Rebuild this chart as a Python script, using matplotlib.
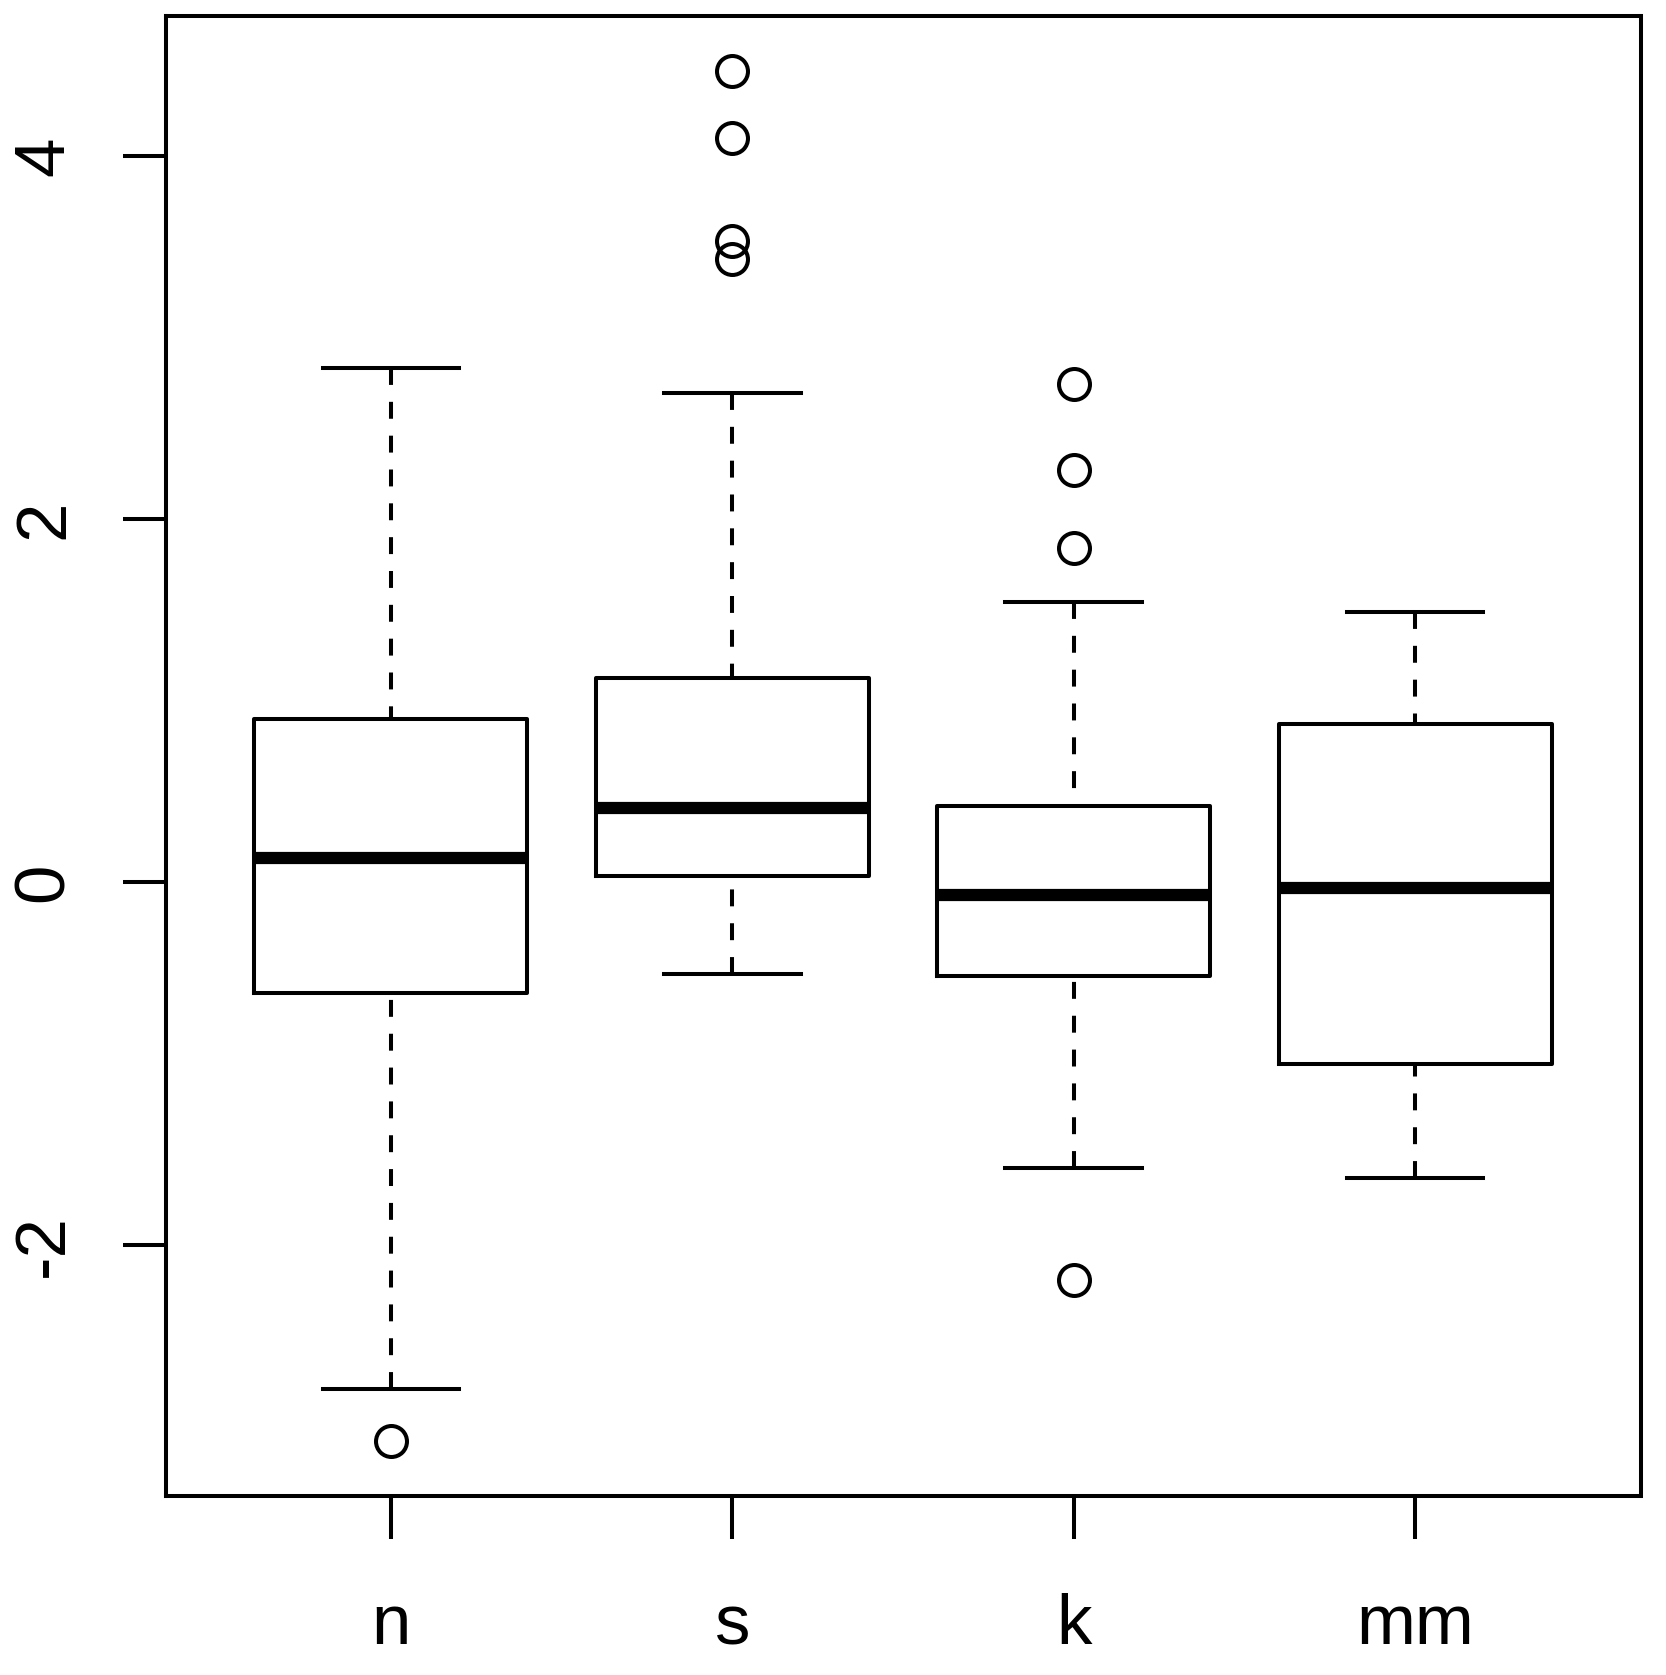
import matplotlib
matplotlib.use("Agg")
import matplotlib.pyplot as plt

plt.rcParams['font.family'] = ['Liberation Sans', 'DejaVu Sans']

categories = ["n", "s", "k", "mm"]
whisker_low = [-2.79, -0.506, -1.576, -1.63]
q1 = [-0.61, 0.035, -0.518, -1.0]
medians = [0.135, 0.41, -0.07, -0.03]
q3 = [0.90, 1.124, 0.418, 0.87]
whisker_high = [2.835, 2.694, 1.541, 1.488]
outliers = [[-3.08], [4.47, 4.10, 3.535, 3.435], [2.747, 2.27, 1.84, -2.19], []]
yticks = [-2, 0, 2, 4]

stats = []
for i, c in enumerate(categories):
    stats.append(dict(label=c, whislo=whisker_low[i], q1=q1[i], med=medians[i],
                      q3=q3[i], whishi=whisker_high[i], fliers=outliers[i]))

fig = plt.figure(figsize=(16.66, 16.75), dpi=100)
ax = fig.add_axes([165.5/1666, 1 - 1496/1675, (1640.5-165.5)/1666, (1496-16)/1675])

lw = 2.9
bp = ax.bxp(stats, positions=[1, 2, 3, 4], widths=0.8, showfliers=True,
            boxprops=dict(color='black', linewidth=lw),
            medianprops=dict(color='black', linewidth=8.8, solid_capstyle='butt'),
            whiskerprops=dict(color='black', linewidth=lw, linestyle=(0, (4.2, 4.2))),
            capprops=dict(color='black', linewidth=lw),
            flierprops=dict(marker='o', markersize=22.3, markerfacecolor='none',
                            markeredgecolor='black', markeredgewidth=lw, linestyle='none'),
            capwidths=0.4)
for w in bp['whiskers']:
    x, y = w.get_data()
    w.set_data(list(x)[::-1], list(y)[::-1])

allvals = whisker_low + whisker_high + [v for o in outliers for v in o]
lo, hi = min(allvals), max(allvals)
pad = 0.04 * (hi - lo)
ax.set_ylim(lo - pad, hi + pad)
ax.set_xlim(0.5 - 0.16, 4.5 + 0.16)

ax.set_yticks(yticks)
ax.set_yticklabels([str(t) for t in yticks], rotation=90, va='center')
ax.set_xticks([1, 2, 3, 4])
ax.set_xticklabels(categories)
ax.tick_params(axis='both', direction='out', length=31, width=lw, labelsize=51, color='black')
ax.tick_params(axis='y', pad=32)
ax.tick_params(axis='x', pad=39)
for s in ax.spines.values():
    s.set_linewidth(lw)
    s.set_color('black')

fig.savefig("out.png", dpi=100)
